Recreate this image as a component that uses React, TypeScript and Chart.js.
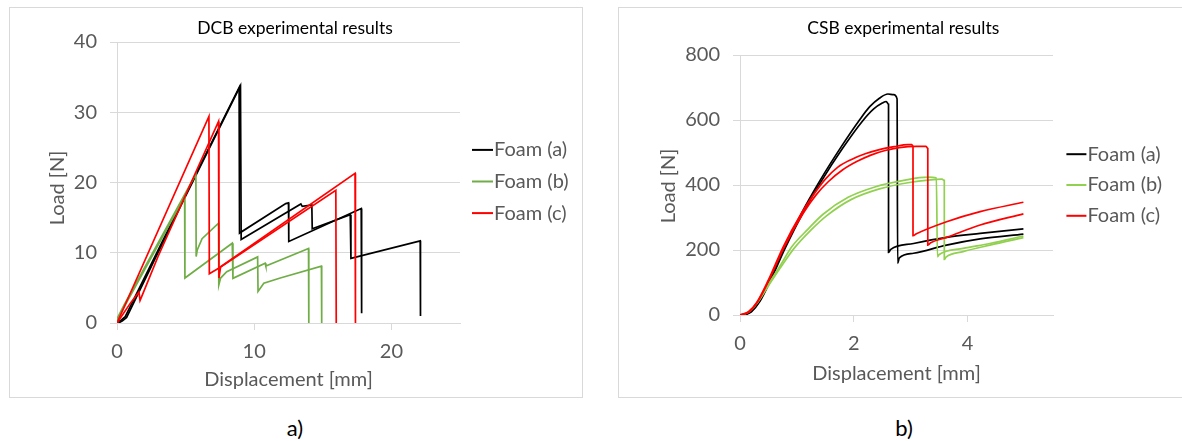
import React, { useEffect, useRef } from "react";
import { Chart, registerables } from "chart.js";

Chart.register(...registerables);

type Pair = [number, number];

const foamLabels = ["Foam (a)", "Foam (b)", "Foam (c)"];

// ---------- a) DCB experimental results: [displacement mm, load N] ----------
const dcbFoamA1: Pair[] = [
  [0, 0.2], [0.3, 0.4], [0.6, 0.9], [4.5, 16.3], [8.9, 33.5], [8.93, 12.8],
  [12.3, 17.0], [12.5, 17.1], [12.52, 11.6], [17.8, 16.3], [17.83, 1.4],
];
const dcbFoamA2: Pair[] = [
  [0.1, 0], [0.4, 0.3], [0.7, 0.8], [4.6, 16.5], [9.0, 33.8], [9.05, 11.9],
  [13.4, 16.95], [13.5, 16.6], [14.2, 16.8], [14.23, 13.4], [17.0, 15.4],
  [17.05, 9.2], [22.1, 11.7], [22.12, 1.0],
];
const dcbFoamB1: Pair[] = [
  [0, 0.3], [0.5, 2.2], [4.93, 18.0], [4.95, 6.4], [8.4, 11.35], [8.45, 6.36],
  [10.8, 8.5], [10.85, 8.1], [13.96, 10.6], [13.98, 0],
];
const dcbFoamB2: Pair[] = [
  [0, 0.6], [0.5, 2.5], [5.75, 21.2], [5.77, 9.45], [5.85, 10.4], [6.2, 12.0],
  [7.4, 14.2], [7.42, 5.4], [7.55, 6.4], [8.0, 7.3], [10.25, 9.4], [10.28, 4.5],
  [10.7, 5.65], [11.9, 6.4], [14.9, 8.1], [14.92, 0],
];
const dcbFoamC1: Pair[] = [
  [0, 0], [6.7, 29.4], [6.73, 7.0], [7.5, 7.9], [15.95, 18.9], [15.98, 0],
];
const dcbFoamC2: Pair[] = [
  [0, 0], [1.0, 2.9], [1.6, 4.4], [1.68, 3.2], [1.85, 4.0], [3.0, 9.5], [7.4, 28.7],
  [7.43, 6.4], [7.55, 8.0], [17.35, 21.3], [17.38, 0],
];
const dcbXTicks = [0, 10, 20];
const dcbYTicks = [0, 10, 20, 30, 40];

// ---------- b) CSB experimental results ----------
const csbFoamA1: Pair[] = [
  [0.08, 0], [0.2, 10], [0.35, 42], [0.53, 104], [0.8, 208], [1.1, 312],
  [1.43, 412], [1.8, 512], [2.14, 594], [2.35, 634], [2.5, 652], [2.57, 657],
  [2.61, 648], [2.61, 193], [2.65, 202], [3.05, 220], [3.63, 239], [4.22, 251],
  [4.98, 265],
];
const csbFoamA2: Pair[] = [
  [0.07, 0], [0.2, 12], [0.35, 45], [0.53, 108], [0.79, 210], [1.08, 313],
  [1.41, 415], [1.78, 518], [2.1, 600], [2.28, 641], [2.45, 667], [2.6, 680],
  [2.7, 678], [2.76, 665], [2.77, 159], [2.8, 176], [3.05, 190], [3.63, 215],
  [4.22, 234], [4.98, 249],
];
const csbFoamB1: Pair[] = [
  [0.02, 0], [0.15, 10], [0.3, 38], [0.5, 95], [0.7, 150], [0.91, 210],
  [1.2, 265], [1.46, 310], [1.9, 362], [2.37, 394], [2.9, 415], [3.3, 424],
  [3.45, 422], [3.47, 179], [3.5, 186], [3.92, 205], [4.39, 220], [4.98, 243],
];
const csbFoamB2: Pair[] = [
  [0.02, 0], [0.15, 9], [0.3, 36], [0.5, 90], [0.7, 143], [0.95, 205],
  [1.25, 262], [1.52, 305], [1.95, 355], [2.45, 388], [2.95, 407], [3.35, 416],
  [3.55, 418], [3.59, 414], [3.59, 171], [3.62, 178], [3.92, 195], [4.39, 215],
  [4.98, 238],
];
const csbFoamC1: Pair[] = [
  [0, 0], [0.15, 10], [0.3, 40], [0.5, 108], [0.76, 210], [1.08, 313],
  [1.3, 372], [1.5, 418], [1.72, 455], [1.95, 478], [2.2, 496], [2.45, 509],
  [2.71, 518], [2.95, 524], [3.02, 524], [3.04, 518], [3.04, 244], [3.1, 250],
  [3.63, 287], [4.22, 318], [4.98, 347],
];
const csbFoamC2: Pair[] = [
  [0, 0], [0.15, 8], [0.3, 38], [0.5, 104], [0.78, 210], [1.11, 313],
  [1.33, 368], [1.55, 410], [1.8, 446], [2.05, 472], [2.3, 492], [2.55, 506],
  [2.8, 515], [3.1, 519], [3.27, 519], [3.3, 512], [3.3, 215], [3.35, 222],
  [3.63, 239], [4.22, 277], [4.98, 311],
];
const csbXTicks = [0, 2, 4];
const csbYTicks = [0, 200, 400, 600, 800];

const FONT = "Lato";
const GRID = "#d9d9d9";
const TEXT = "#595959";

const decorPlugin = {
  id: "decor",
  afterDraw(chart: any, _args: any, opts: any) {
    const { ctx, chartArea } = chart;
    ctx.save();
    ctx.textBaseline = "middle";
    ctx.textAlign = "center";
    ctx.fillStyle = "#000000";
    ctx.font = `${opts.titleSize}px ${FONT}`;
    ctx.fillText(opts.title, opts.titleX, opts.titleY);

    ctx.save();
    ctx.translate(opts.yTitleX, opts.yTitleY);
    ctx.rotate(-Math.PI / 2);
    ctx.fillStyle = TEXT;
    ctx.font = `${opts.textSize}px ${FONT}`;
    ctx.fillText(opts.yTitle, 0, 0);
    ctx.restore();

    const cy = (chartArea.top + chartArea.bottom) / 2 + opts.legendDy;
    ctx.font = `${opts.textSize}px ${FONT}`;
    ctx.textAlign = "left";
    opts.legend.forEach((item: any, i: number) => {
      const y = cy + (i - 1) * opts.legendGap;
      const x0 = chartArea.right + opts.legendDx;
      ctx.strokeStyle = item.color;
      ctx.lineWidth = 2;
      ctx.beginPath();
      ctx.moveTo(x0, y);
      ctx.lineTo(x0 + opts.legendLine, y);
      ctx.stroke();
      ctx.fillStyle = TEXT;
      ctx.fillText(item.label, x0 + opts.legendLine + 1, y);
    });
    ctx.restore();
  },
};

function ds(label: string, pts: Pair[], color: string, smooth: boolean) {
  return {
    label,
    data: pts.map(([x, y]) => ({ x, y })),
    borderColor: color,
    backgroundColor: color,
    borderWidth: 1.7,
    pointRadius: 0,
    showLine: true,
    fill: false,
    tension: 0,
    cubicInterpolationMode: smooth ? "monotone" : "default",
  };
}

function makeConfig(s: any) {
  return {
    type: "scatter",
    data: { datasets: s.datasets },
    plugins: [decorPlugin],
    options: {
      responsive: false,
      animation: false,
      events: [],
      layout: { padding: { left: 0, right: s.padRight, top: s.padTop, bottom: 0 } },
      plugins: {
        legend: { display: false },
        title: { display: false },
        tooltip: { enabled: false },
        decor: s.decor,
      },
      scales: {
        x: {
          type: "linear",
          min: s.xMin,
          max: s.xMax,
          afterBuildTicks: (scale: any) => {
            scale.ticks = s.xTicks.map((v: number) => ({ value: v }));
          },
          afterFit: (scale: any) => {
            scale.height = s.xHeight;
          },
          grid: {
            display: true,
            drawOnChartArea: false,
            drawTicks: true,
            tickLength: 7,
            color: GRID,
            tickColor: GRID,
          },
          border: { display: true, color: GRID },
          ticks: {
            padding: 10,
            color: TEXT,
            font: { family: FONT, size: s.textSize },
            maxRotation: 0,
          },
          title: {
            display: true,
            text: "Displacement [mm]",
            color: TEXT,
            font: { family: FONT, size: s.textSize },
            padding: { top: 0, bottom: s.xTitlePad },
          },
        },
        y: {
          type: "linear",
          min: s.yMin,
          max: s.yMax,
          afterBuildTicks: (scale: any) => {
            scale.ticks = s.yTicks.map((v: number) => ({ value: v }));
          },
          afterFit: (scale: any) => {
            scale.width = s.yWidth;
          },
          grid: {
            display: true,
            drawOnChartArea: true,
            drawTicks: true,
            tickLength: 7,
            color: GRID,
            tickColor: GRID,
          },
          border: { display: true, color: GRID },
          ticks: {
            padding: 13,
            color: TEXT,
            font: { family: FONT, size: s.textSize },
          },
        },
      },
    },
  };
}

function dcbConfig() {
  const black = "#000000";
  const green = "#70AD47";
  const red = "#FF0000";
  return makeConfig({
    datasets: [
      ds(foamLabels[2], dcbFoamC2, red, false),
      ds(foamLabels[2], dcbFoamC1, red, false),
      ds(foamLabels[1], dcbFoamB2, green, false),
      ds(foamLabels[1], dcbFoamB1, green, false),
      ds(foamLabels[0], dcbFoamA2, black, false),
      ds(foamLabels[0], dcbFoamA1, black, false),
    ],
    xMin: 0, xMax: 25, xTicks: dcbXTicks,
    yMin: 0, yMax: 40, yTicks: dcbYTicks,
    padRight: 122, padTop: 34, xHeight: 74, yWidth: 107,
    textSize: 20, xTitlePad: 5,
    decor: {
      title: "DCB experimental results", titleX: 285, titleY: 20, titleSize: 17.5,
      yTitle: "Load [N]", yTitleX: 48, yTitleY: 180, textSize: 20,
      legend: [
        { label: foamLabels[0], color: black },
        { label: foamLabels[1], color: green },
        { label: foamLabels[2], color: red },
      ],
      legendDx: 12, legendLine: 21, legendGap: 31.6, legendDy: -1,
    },
  });
}

function csbConfig() {
  const black = "#000000";
  const green = "#92D050";
  const red = "#FF0000";
  return makeConfig({
    datasets: [
      ds(foamLabels[2], csbFoamC2, red, true),
      ds(foamLabels[2], csbFoamC1, red, true),
      ds(foamLabels[1], csbFoamB2, green, true),
      ds(foamLabels[1], csbFoamB1, green, true),
      ds(foamLabels[0], csbFoamA2, black, true),
      ds(foamLabels[0], csbFoamA1, black, true),
    ],
    xMin: 0, xMax: 5.5, xTicks: csbXTicks,
    yMin: 0, yMax: 800, yTicks: csbYTicks,
    padRight: 129, padTop: 47, xHeight: 82, yWidth: 121,
    textSize: 20, xTitlePad: 11.7,
    decor: {
      title: "CSB experimental results", titleX: 284.3, titleY: 20, titleSize: 17.5,
      yTitle: "Load [N]", yTitleX: 50, yTitleY: 178, textSize: 20,
      legend: [
        { label: foamLabels[0], color: black },
        { label: foamLabels[1], color: green },
        { label: foamLabels[2], color: red },
      ],
      legendDx: 13.4, legendLine: 20, legendGap: 30.8, legendDy: 0,
    },
  });
}

function ChartCanvas({ make, width, height }: { make: () => any; width: number; height: number }) {
  const ref = useRef<HTMLCanvasElement | null>(null);
  useEffect(() => {
    const chart = new Chart(ref.current as HTMLCanvasElement, make());
    return () => chart.destroy();
  }, []);
  return (
    <canvas
      ref={ref}
      width={width}
      height={height}
      style={{ display: "block", width, height }}
    />
  );
}

export default function App() {
  const caption: React.CSSProperties = {
    position: "absolute",
    width: 100,
    textAlign: "center",
    fontFamily: FONT,
    fontSize: 22,
    lineHeight: "26px",
    color: "#000",
  };
  return (
    <div
      style={{
        position: "absolute",
        left: 0,
        top: 0,
        width: 1182,
        height: 441,
        background: "#fff",
        overflow: "hidden",
      }}
    >
      <div
        style={{
          position: "absolute",
          left: 9,
          top: 7,
          width: 574,
          height: 391,
          border: `1px solid ${GRID}`,
          boxSizing: "border-box",
        }}
      >
        <ChartCanvas make={dcbConfig} width={572} height={389} />
      </div>
      <div
        style={{
          position: "absolute",
          left: 618,
          top: 7,
          width: 564,
          height: 391,
          border: `1px solid ${GRID}`,
          borderRight: "none",
          boxSizing: "border-box",
        }}
      >
        <ChartCanvas make={csbConfig} width={563} height={389} />
      </div>
      <div style={{ ...caption, left: 245, top: 415 }}>a)</div>
      <div style={{ ...caption, left: 854, top: 415 }}>b)</div>
    </div>
  );
}
